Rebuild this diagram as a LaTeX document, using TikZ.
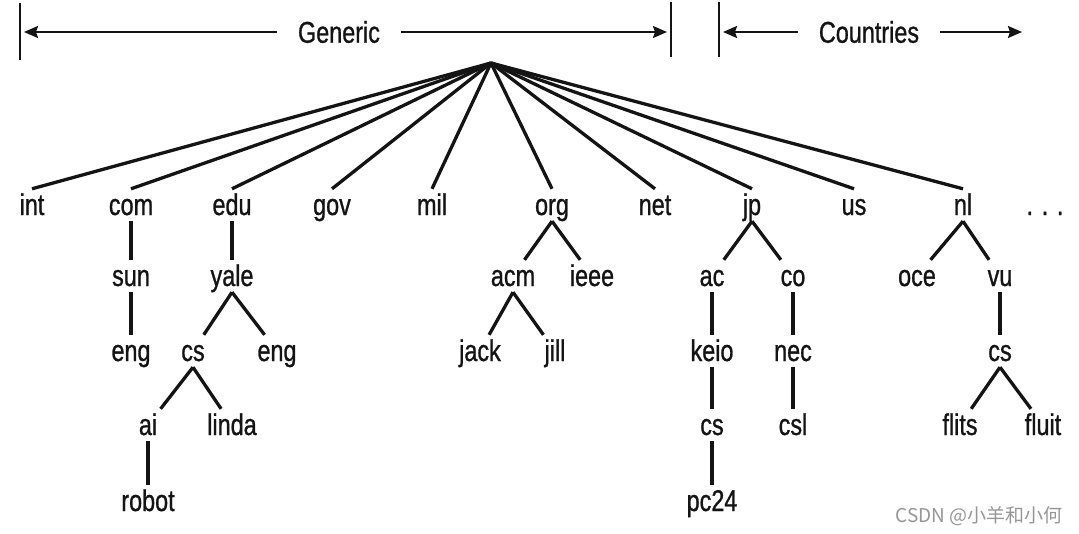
\documentclass[tikz,border=0pt]{standalone}
\usepackage{fontspec}
\setmainfont{Liberation Sans}[FakeStretch=0.78, FakeBold=0.9]
\newfontfamily\cjk{Noto Sans CJK SC}
\usepackage{tikz}
\usetikzlibrary{
    positioning,
    arrows.meta
}
\definecolor{InkBlack}{RGB}{20,20,20}
\definecolor{MarkGray}{RGB}{150,150,150}

\begin{document}
\begin{tikzpicture}[
    x=1pt, y=-1pt,
    dom/.style={font=\fontsize{30}{36}\selectfont, text=InkBlack, text height=22pt, text depth=2pt, inner sep=4pt, anchor=base},
    edge/.style={line width=3.3pt, color=InkBlack},
    span/.style={line width=2.1pt, color=InkBlack, -{Stealth[length=14pt, width=12pt, inset=2pt]}},
    tick/.style={line width=1.6pt, color=InkBlack},
    lbl/.style={font=\fontsize{30}{36}\selectfont, text=InkBlack, inner xsep=21pt},
]
\useasboundingbox (0,0) rectangle (1079,533);

% top bar
\node[lbl] (gen) at (339,32) {Generic};
\node[lbl] (cty) at (869,32) {Countries};
\coordinate (genL) at (24,32);
\coordinate (genR) at (667,32);
\coordinate (ctyL) at (723,32);
\coordinate (ctyR) at (1022,32);
\draw[tick] (20,3) -- (20,60);
\draw[tick] (671,2) -- (671,57);
\draw[tick] (719,2) -- (719,57);
\draw[span] (gen) -- (genL);
\draw[span] (gen) -- (genR);
\draw[span] (cty) -- (ctyL);
\draw[span] (cty) -- (ctyR);

% top level domains
\coordinate (root) at (491,63);
\node[dom] (int) at (32,215) {int};
\node[dom] (com) at (131,215) {com};
\node[dom] (edu) at (232,215) {edu};
\node[dom] (gov) at (332,215) {gov};
\node[dom] (mil) at (432,215) {mil};
\node[dom] (org) at (552,215) {org};
\node[dom] (net) at (655,215) {net};
\node[dom] (jp) at (752,215) {jp};
\node[dom] (us) at (854,215) {us};
\node[dom] (nl) at (963,215) {nl};
\node[dom] (more) at (1045,215) {. . .};

\foreach \n in {int,com,edu,gov,mil,org,net,jp,us,nl}{
  \draw[edge] (root) -- (\n.north);
}

% second level and below
\node[dom] (sun) at (131,286) {sun};
\node[dom] (sun-eng) at (131,361) {eng};
\node[dom] (yale) at (232,286) {yale};
\node[dom] (yale-cs) at (193,361) {cs};
\node[dom] (yale-eng) at (277,361) {eng};
\node[dom] (ai) at (148,435) {ai};
\node[dom] (linda) at (232,435) {linda};
\node[dom] (robot) at (148,511) {robot};
\node[dom] (acm) at (513,286) {acm};
\node[dom] (ieee) at (592,286) {ieee};
\node[dom] (jack) at (480,361) {jack};
\node[dom] (jill) at (555,361) {jill};
\node[dom] (ac) at (712,286) {ac};
\node[dom] (co) at (793,286) {co};
\node[dom] (keio) at (712,361) {keio};
\node[dom] (nec) at (793,361) {nec};
\node[dom] (keio-cs) at (712,435) {cs};
\node[dom] (csl) at (793,435) {csl};
\node[dom] (pc24) at (712,511) {pc24};
\node[dom] (oce) at (917,286) {oce};
\node[dom] (vu) at (1000,286) {vu};
\node[dom] (vu-cs) at (1000,361) {cs};
\node[dom] (flits) at (960,435) {flits};
\node[dom] (fluit) at (1043,435) {fluit};

\foreach \a/\b in {com/sun, sun/sun-eng, edu/yale, yale/yale-cs, yale/yale-eng,
  yale-cs/ai, yale-cs/linda, ai/robot, org/acm, org/ieee, acm/jack, acm/jill,
  jp/ac, jp/co, ac/keio, co/nec, keio/keio-cs, nec/csl, keio-cs/pc24,
  nl/oce, nl/vu, vu/vu-cs, vu-cs/flits, vu-cs/fluit}{
  \draw[edge] (\a.south) -- (\b);
}

% watermark
\node[anchor=east, font=\cjk\fontsize{19}{22}\selectfont, text=MarkGray] (mark) at (1066,516) {CSDN @小羊和小何};
\end{tikzpicture}
\end{document}
